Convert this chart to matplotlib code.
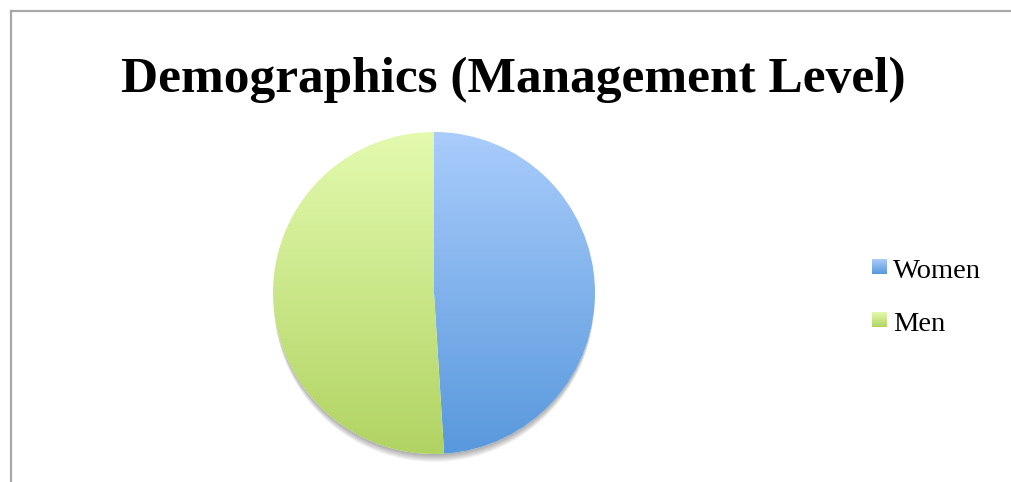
import numpy as np
import matplotlib
matplotlib.use('Agg')
import matplotlib.pyplot as plt
from matplotlib.patches import Circle
from matplotlib.lines import Line2D

labels = ['Women', 'Men']
values = [49, 51]
tops = ['#a9ccfb', '#e3faaf']
bottoms = ['#5898dc', '#b1d362']

W, H = 1011, 482
fig = plt.figure(figsize=(W / 100, H / 100), dpi=100)

def grad(c1, c2, n=256):
    a = np.array(matplotlib.colors.to_rgb(c1))
    b = np.array(matplotlib.colors.to_rgb(c2))
    t = np.linspace(0, 1, n)[:, None]
    return (a * (1 - t) + b * t)[:, None, :]

# frame lines
fig.add_artist(Line2D([10.5 / W, 10.5 / W], [0, 1 - 11 / H], transform=fig.transFigure, color='#a8a8a8', lw=1.6))
fig.add_artist(Line2D([10.5 / W, 1], [1 - 11 / H, 1 - 11 / H], transform=fig.transFigure, color='#a8a8a8', lw=1.6))

title = fig.text(513 / W, 1 - 92 / H, 'Demographics (Management Level)', ha='center', va='baseline',
                 fontsize=40, fontweight='bold', family='Liberation Serif')
fig.canvas.draw()
tw = title.get_window_extent().width
title.set_fontsize(40 * 783 / tw)

# pie
cx, cy, r = 434, 293, 161
ax = fig.add_axes([(cx - r) / W, (H - cy - r) / H, 2 * r / W, 2 * r / H])
ax.axis('off')

for i in range(10):
    s = Circle((0, -0.01 - i * 0.005), 0.995, color='#000000', alpha=0.035, lw=0, zorder=0, clip_on=False)
    ax.add_patch(s)
ax.add_patch(Circle((0, 0), 1.0, color='white', lw=0, zorder=1))

wedges, _ = ax.pie(values, startangle=90, counterclock=False, radius=1, colors=tops)
for w, c1, c2 in zip(wedges, tops, bottoms):
    w.set_facecolor('none')
    w.set_edgecolor('none')
    im = ax.imshow(grad(c1, c2), extent=[-1, 1, -1, 1], aspect='auto', zorder=2, interpolation='bilinear')
    im.set_clip_path(w)
ax.set_xlim(-1, 1)
ax.set_ylim(-1, 1)
ax.set_aspect('equal')

# legend
ys = [259, 312]
for lab, c1, c2, y in zip(labels, tops, bottoms, ys):
    lax = fig.add_axes([872 / W, (H - y - 15) / H, 15 / W, 15 / H])
    lax.imshow(grad(c1, c2), aspect='auto', extent=[0, 1, 0, 1])
    lax.axis('off')
    fig.text(893 / W, 1 - (y + 19) / H, lab, ha='left', va='baseline', fontsize=20.5, family='Liberation Serif')

fig.savefig('out.png', dpi=100)
